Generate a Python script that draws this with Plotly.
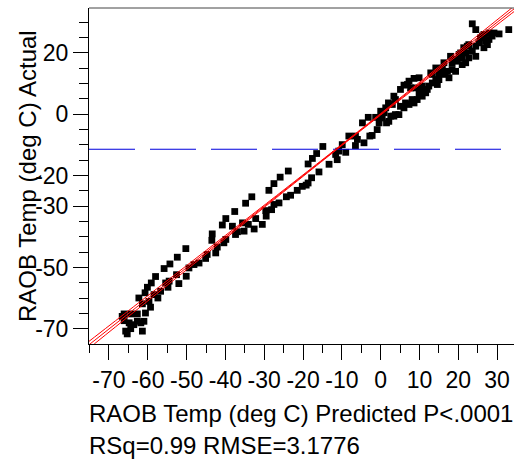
import plotly.graph_objects as go

# ---- data (Predicted, Actual) in deg C ----
predicted = [
    -66.1, -64.4, -62.7, -66.1, -64.8, -62.7, -61.0, -65.7, -64.4, -61.4, -61.8, -60.6, -65.3, -63.6, -66.6,
    -62.3, -60.7, -60.1, -59.1, -58.0, -55.8, -54.3, -52.4, -50.2, -43.4, -43.5, -40.8, -39.9, -37.6, -34.8,
    -33.2, -28.8, -27.5, -25.9, -23.8, -18.7, -17.6, -16.5, -14.9,
    -59.3, -61.4, -57.4, -56.7, -54.8, -54.5, -52.6, -52.0, -50.1, -49.4, -48.1, -46.8, -45.1, -42.5, -42.1,
    -40.4, -39.9, -37.4, -36.9, -35.2, -34.1, -32.6, -32.2, -30.5, -29.5, -29.6, -28.1, -27.5, -26.2, -24.3,
    -23.2, -21.5, -19.2, -18.7, -17.8, -15.9, -13.3, -11.2, -10.8, -9.9, -9.0, -8.2, -6.5, -6.5, -4.3,
    -4.7, -3.2, -2.8, -2.2, -0.9, -1.3, 0.0, 1.3, 1.5, 2.0, 3.4, 3.4, 4.7, 6.0, 5.1, 6.0, 7.3, 7.7, 8.6,
    9.0, 9.9, 7.3, 8.6, 9.4, 10.7, 11.6, 10.7, 12.4, 12.9, 14.2, 14.6, 15.0, 16.3, 16.6, 17.6, 18.0, 18.4,
    19.3, 19.7, 20.6, 21.0, 21.9, 22.3, 22.7, 23.6, 24.5, 24.5, 25.3, 26.2, 26.6, 27.0, 27.9, 28.7, 29.2,
    30.5, 33.0, 23.6, 24.5, 25.7, 27.5, 22.7, 21.0, 19.3, 15.9, 15.0, 13.3, 12.0, 9.9, 8.1, 6.4, 5.1, 3.8,
    2.1, -20.2, -11.6, -6.0, -0.4, 0.4, 2.6, 6.9, 20.2, 21.4, 27.9, 26.6, 21.9, 18.4, 17.2, 14.2, 13.3,
    10.7, 3.8, 3.0, 0.9, -38.2, -35.6, -44.7, -55.4, -58.4, -59.7,
]
actual = [
    -65.1, -65.1, -65.1, -67.3, -68.0, -67.5, -67.5, -70.7, -69.9, -70.7, -68.0, -64.8, -71.6, -68.6, -65.9,
    -59.9, -58.2, -56.4, -55.0, -52.9, -50.3, -48.8, -46.6, -43.8, -39.0, -41.1, -36.1, -34.0, -31.7, -29.0,
    -26.9, -24.8, -22.6, -20.5, -18.5, -16.2, -14.4, -12.8, -10.5,
    -62.9, -61.8, -59.9, -57.7, -56.4, -54.4, -52.3, -55.2, -52.8, -50.1, -49.0, -48.5, -47.0, -45.2, -43.3,
    -41.9, -40.8, -39.2, -38.3, -38.1, -35.9, -37.4, -34.0, -35.9, -33.2, -31.4, -31.1, -29.4, -28.9, -26.9,
    -26.4, -24.8, -23.1, -22.4, -20.7, -18.8, -16.3, -14.8, -12.0, -9.9, -12.4, -7.1, -10.2, -7.1, -9.3,
    -2.8, -1.0, -7.1, -6.9, -5.0, -1.0, 1.0, 2.1, -2.8, 3.7, 5.9, -0.6, -0.1, 2.1, 8.1, 9.5, 10.8, 8.6, 11.7,
    8.6, 11.9, 3.2, 3.7, 4.8, 5.9, 7.0, 9.2, 9.2, 13.5, 15.1, 9.7, 11.3, 16.8, 13.0, 11.9, 18.9, 14.6,
    14.0, 17.3, 20.0, 16.2, 16.8, 22.2, 22.7, 20.6, 22.2, 18.9, 23.3, 25.5, 21.7, 23.8, 24.4, 25.5, 26.5,
    26.2, 27.6, 29.5, 27.6, 24.9, 22.7, 18.4, 18.4, 17.9, 15.1, 13.2, 13.0, 8.1, 6.6, 4.8, 3.7, 2.6, -0.1,
    -2.3, -23.5, -13.1, -8.2, -2.8, -1.2, -0.6, 9.7, 19.5, 21.7, 26.5, 26.0, 20.0, 16.8, 14.0, 11.3, 10.2,
    7.5, 4.8, 3.2, 0.5, -36.5, -35.4, -45.7, -55.0, -58.8, -61.0,
]

mean_actual = -11.4
fit_x = [-80, -60, -40, -20, -11.4, 0, 20, 40]
band_half = [1.2, 0.85, 0.5, 0.25, 0.2, 0.25, 0.6, 1.0]

x_tickvals = [-70, -60, -50, -40, -30, -20, -10, 0, 10, 20, 30]
x_ticktext = ["-70", "-60", "-50", "-40", "-30", "-20", "-10", "0", "10", "20", "30"]
x_minor = [-75, -65, -55, -45, -35, -25, -15, -5, 5, 15, 25]
y_tickvals = [-70, -50, -30, -20, 0, 20]
y_ticktext = ["-70", "-50", "-30", "-20", "0", "20"]
y_minor = [-75, -65, -60, -55, -45, -40, -35, -25, -15, -10, -5, 5, 10, 15, 25, 30]

x_range = [-75.15, 34.35]
y_range = [-74.9, 34.65]

FONT = "Liberation Sans, Arial, sans-serif"
TICK_SIZE = 23
TITLE_SIZE = 24

fig = go.Figure()
fig.add_trace(go.Scatter(
    x=predicted, y=actual, mode="markers",
    marker=dict(symbol="square", size=6.8, color="black", line=dict(width=0)),
    hoverinfo="skip",
))
fig.add_trace(go.Scatter(
    x=x_range, y=[mean_actual, mean_actual], mode="lines",
    line=dict(color="#0000dd", width=1.2, dash="46px,15px"), hoverinfo="skip",
))
# fit line y = x and confidence curves
fig.add_trace(go.Scatter(x=fit_x, y=fit_x, mode="lines",
                         line=dict(color="red", width=1), hoverinfo="skip"))
fig.add_trace(go.Scatter(x=fit_x, y=[v + h for v, h in zip(fit_x, band_half)], mode="lines",
                         line=dict(color="red", width=1, shape="spline"), hoverinfo="skip"))
fig.add_trace(go.Scatter(x=fit_x, y=[v - h for v, h in zip(fit_x, band_half)], mode="lines",
                         line=dict(color="red", width=1, shape="spline"), hoverinfo="skip"))

fig.update_layout(
    width=514, height=461,
    margin=dict(l=89, r=0, t=8, b=117),
    plot_bgcolor="white", paper_bgcolor="white",
    showlegend=False,
    font=dict(family=FONT, color="black", size=TICK_SIZE),
    xaxis=dict(
        range=x_range, showgrid=False, zeroline=False,
        showline=True, linecolor="black", linewidth=1,
        ticks="outside", tickvals=x_tickvals, ticktext=x_ticktext,
        ticklen=15, tickwidth=1, tickcolor="black",
        tickfont=dict(family=FONT, size=TICK_SIZE, color="black"),
        minor=dict(tickvals=x_minor, ticks="outside", ticklen=8, tickwidth=1, tickcolor="black"),
    ),
    yaxis=dict(
        range=y_range, showgrid=False, zeroline=False,
        showline=True, linecolor="black", linewidth=1,
        ticks="outside", tickvals=y_tickvals, ticktext=y_ticktext,
        ticklen=15, tickwidth=1, tickcolor="black",
        tickfont=dict(family=FONT, size=TICK_SIZE, color="black"),
        minor=dict(tickvals=y_minor, ticks="outside", ticklen=9, tickwidth=1, tickcolor="black"),
    ),
    shapes=[dict(type="line", xref="paper", yref="paper", x0=0, x1=1, y0=1, y1=1,
                 line=dict(color="#444444", width=1))],
    annotations=[
        dict(text="RAOB Temp (deg C) Actual", xref="paper", yref="paper",
             x=(27 - 89) / 425, y=0.5, xanchor="center", yanchor="middle",
             textangle=-90, showarrow=False, font=dict(family=FONT, size=TITLE_SIZE, color="black")),
        dict(text="RAOB Temp (deg C) Predicted P&lt;.0001", xref="paper", yref="paper",
             x=-0.004, y=(344 - 413) / 336, xanchor="left", yanchor="middle",
             showarrow=False, font=dict(family=FONT, size=TITLE_SIZE, color="black")),
        dict(text="RSq=0.99 RMSE=3.1776", xref="paper", yref="paper",
             x=-0.004, y=(344 - 445) / 336, xanchor="left", yanchor="middle",
             showarrow=False, font=dict(family=FONT, size=TITLE_SIZE, color="black")),
    ],
)

fig.write_html("out.html")
